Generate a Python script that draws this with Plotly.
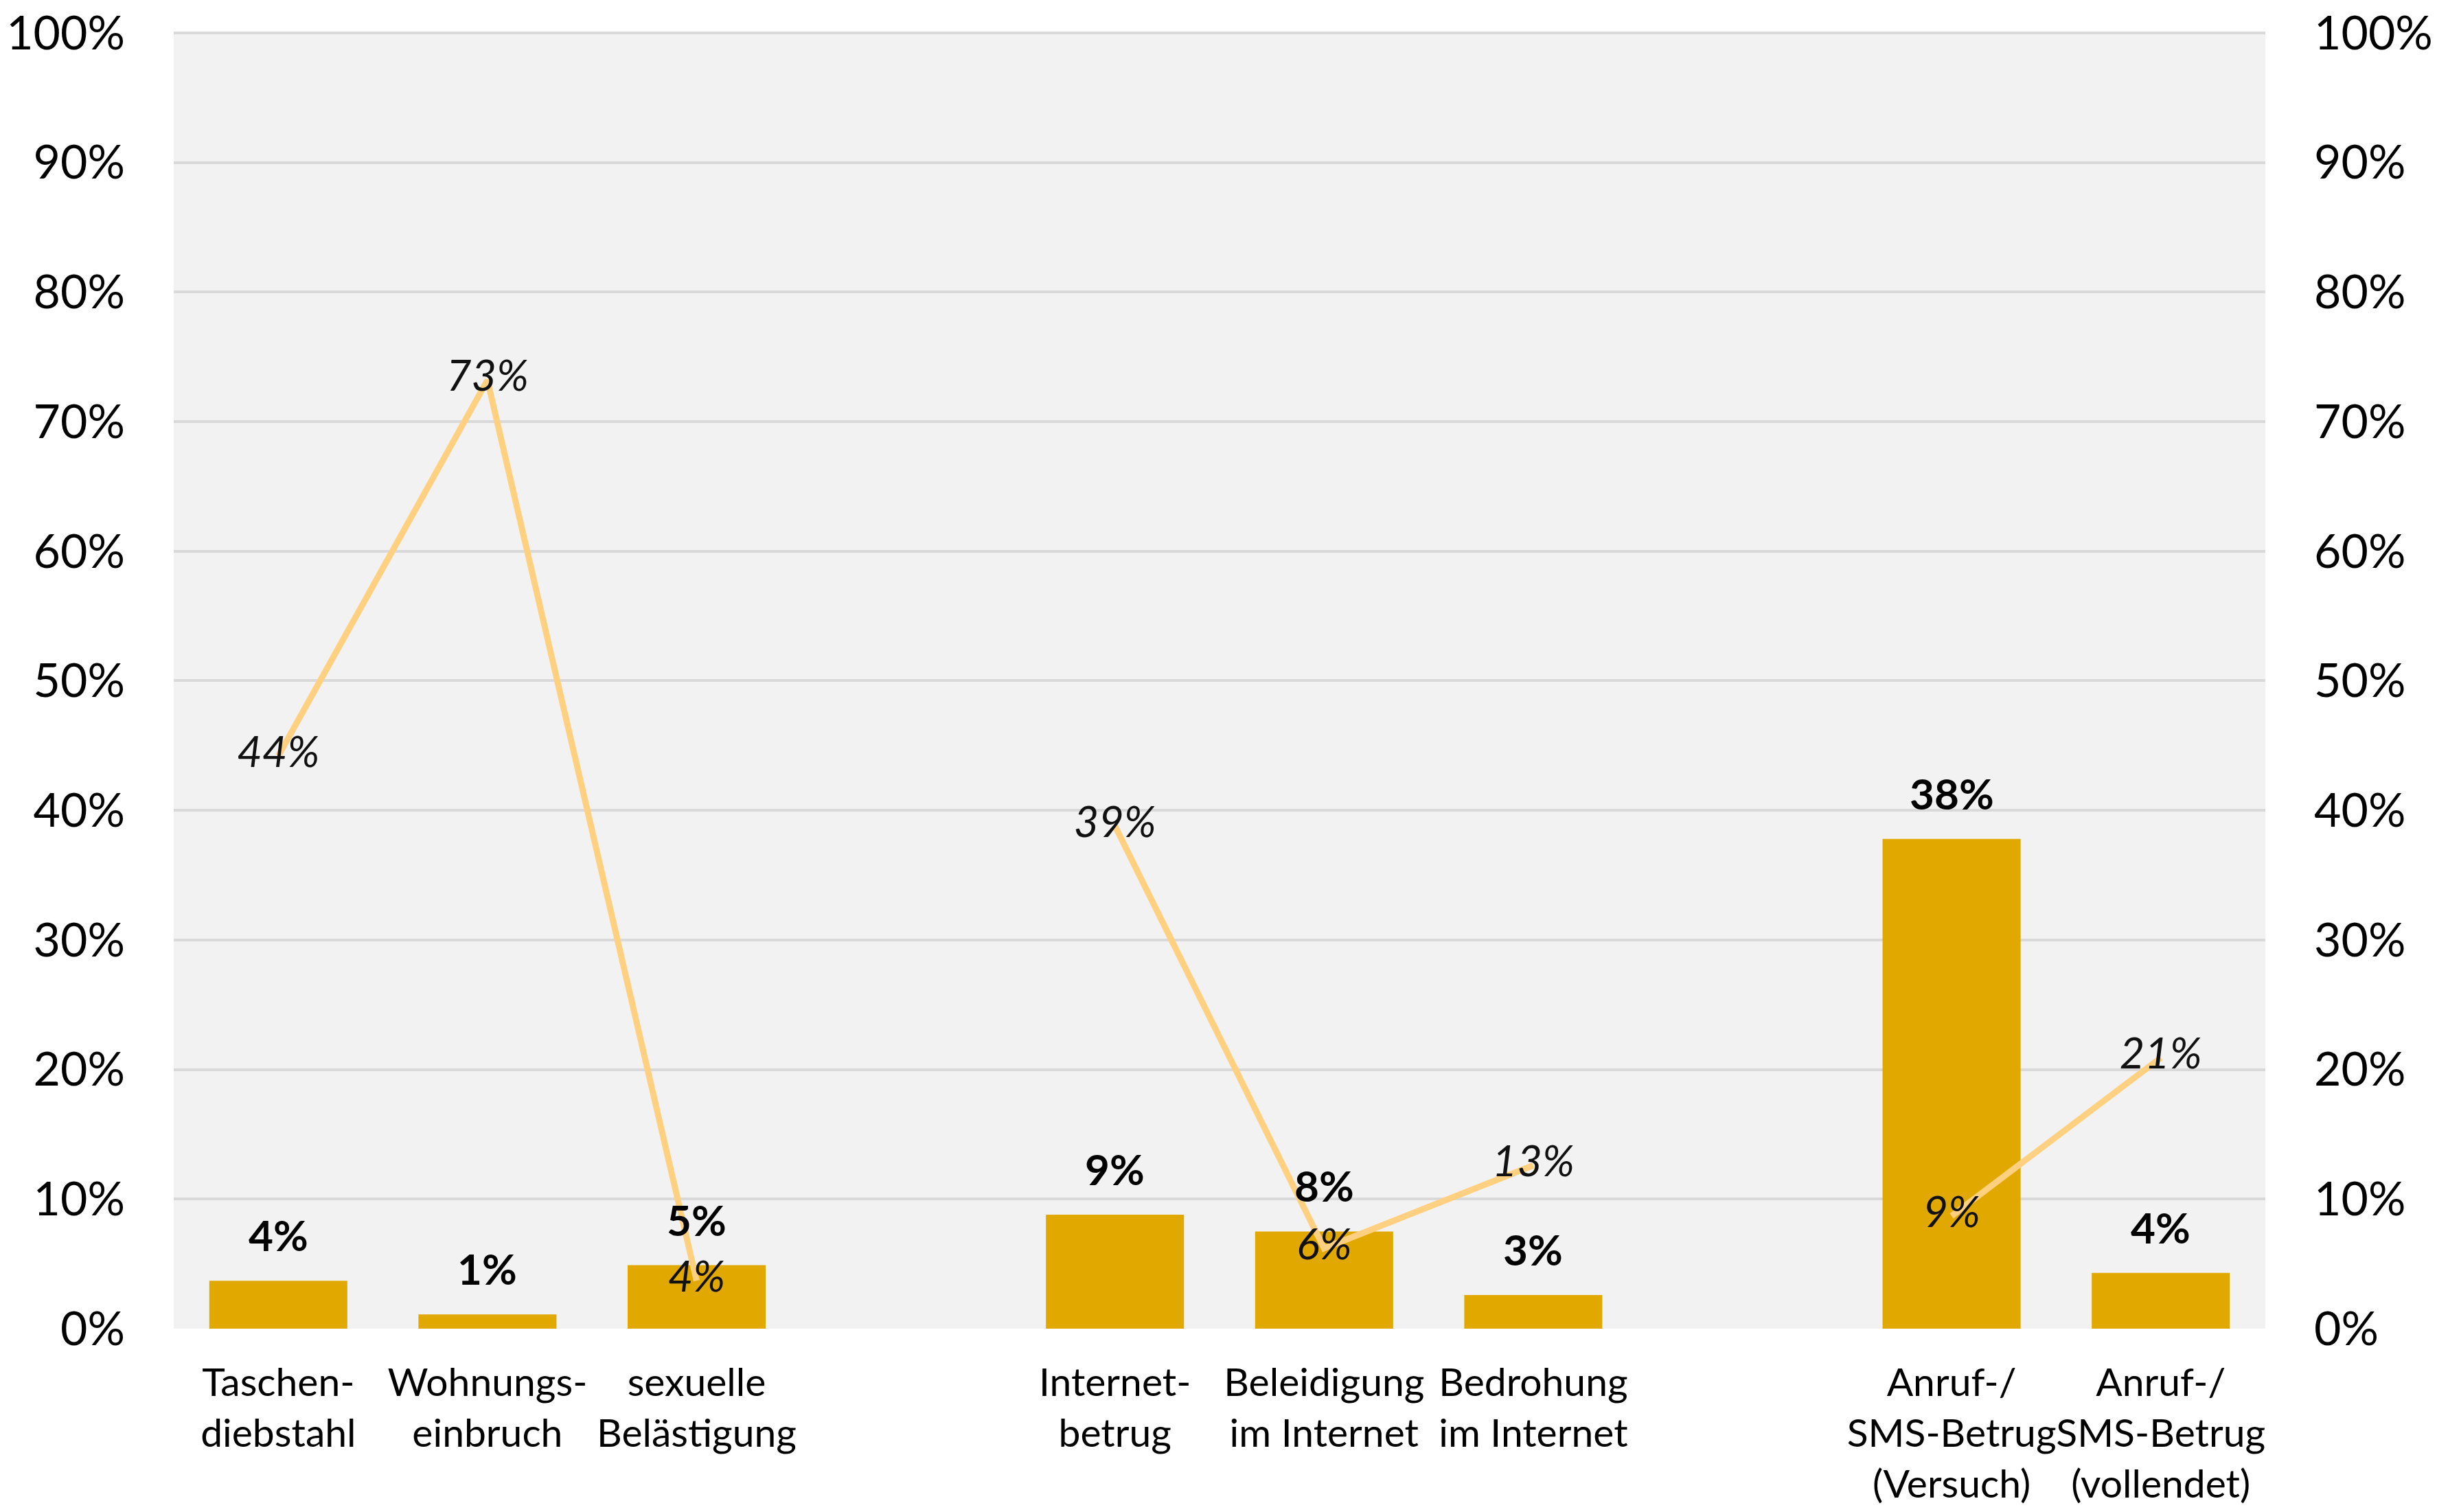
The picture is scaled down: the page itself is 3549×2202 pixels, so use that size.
import plotly.graph_objects as go

categories = ["Taschen-<br>diebstahl", "Wohnungs-<br>einbruch", "sexuelle<br>Belästigung", "",
              "Internet-<br>betrug", "Beleidigung<br>im Internet", "Bedrohung<br>im Internet", "",
              "Anruf-/<br>SMS-Betrug<br>(Versuch)", "Anruf-/<br>SMS-Betrug<br>(vollendet)"]
bar_values = [3.7, 1.1, 4.9, None, 8.8, 7.5, 2.6, None, 37.8, 4.3]
bar_labels = ["4%", "1%", "5%", "", "9%", "8%", "3%", "", "38%", "4%"]
line_values = [44.2, 73.2, 3.7, None, 38.8, 6.2, 12.6, None, 8.7, 20.9]
line_labels = ["44%", "73%", "4%", "", "39%", "6%", "13%", "", "9%", "21%"]
y_ticks = [0, 10, 20, 30, 40, 50, 60, 70, 80, 90, 100]

x = list(range(len(categories)))
FONT = "Lato"

fig = go.Figure()
fig.add_trace(go.Bar(
    x=x, y=bar_values, marker=dict(color="#E1A900", line=dict(width=0)),
    width=0.66, yaxis="y", showlegend=False, hoverinfo="skip",
))
fig.add_trace(go.Scatter(
    x=x, y=line_values, yaxis="y2", mode="lines+text",
    line=dict(color="#FFD080", width=9), connectgaps=False,
    text=line_labels, textposition="middle center",
    textfont=dict(family=FONT, size=63, color="#111111", style="italic"),
    showlegend=False, hoverinfo="skip",
))

for xi, v, lab in zip(x, bar_values, bar_labels):
    if v is None:
        continue
    fig.add_annotation(x=xi, y=v, xref="x", yref="y", text="<b>%s</b>" % lab,
                       showarrow=False, yanchor="bottom", yshift=28,
                       font=dict(family=FONT, size=62, color="#000000"))

axis_common = dict(range=[0, 100.1], tickvals=y_ticks, ticktext=["%d%%" % t for t in y_ticks],
                   tickfont=dict(family=FONT, size=68, color="#000000"),
                   showline=False, zeroline=False, fixedrange=True,
                   ticklabeloverflow="allow", automargin=False)

# page body has an 8px default margin; size the figure so it fits the window exactly
fig.update_layout(
    width=3533, height=2186,
    margin=dict(l=245, r=242, t=38, b=259, autoexpand=False),
    paper_bgcolor="#FFFFFF", plot_bgcolor="#F2F2F2",
    bargap=0.34,
    xaxis=dict(range=[-0.5, 9.5], tickvals=x, ticktext=categories,
               tickfont=dict(family=FONT, size=57, color="#000000"),
               showgrid=False, zeroline=False, showline=False, ticks="",
               ticklabelstandoff=40, tickangle=0, automargin=False),
    yaxis=dict(side="left", showgrid=True, gridcolor="#D9D9D9", gridwidth=4,
               ticklabelstandoff=70, **axis_common),
    yaxis2=dict(side="right", overlaying="y", showgrid=False,
                ticklabelstandoff=70, **axis_common),
)

fig.write_html("out.html")
